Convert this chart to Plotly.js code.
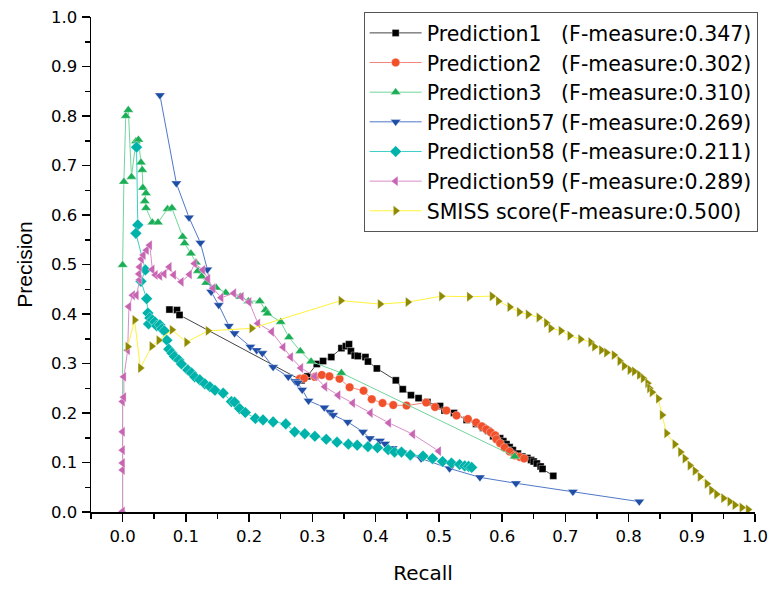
<!DOCTYPE html>
<html><head><meta charset="utf-8">
<script src="https://cdn.plot.ly/plotly-3.0.1.min.js"></script>
<style>html,body{margin:0;padding:0;background:#fff;}#chart{width:771px;height:589px;}</style>
</head><body><div id="chart"></div>
<script>
// ---- data ----
const seriesNames = [
  "Prediction1\u00A0\u00A0\u00A0(F-measure:0.347)",
  "Prediction2\u00A0\u00A0\u00A0(F-measure:0.302)",
  "Prediction3\u00A0\u00A0\u00A0(F-measure:0.310)",
  "Prediction57 (F-measure:0.269)",
  "Prediction58 (F-measure:0.211)",
  "Prediction59 (F-measure:0.289)",
  "SMISS score(F-measure:0.500)"
];

const p1Recall = [0.074,0.086,0.090,0.283,0.285,0.292,0.307,0.317,0.330,0.346,0.353,0.358,0.361,0.367,0.372,0.384,0.388,0.402,0.432,0.443,0.456,0.468,0.482,0.502,0.509,0.524,0.544,0.559,0.570,0.578,0.586,0.597,0.602,0.607,0.612,0.617,0.625,0.632,0.640,0.646,0.650,0.655,0.661,0.664,0.681];
const p1Precision = [0.409,0.408,0.398,0.266,0.270,0.274,0.299,0.305,0.313,0.331,0.335,0.339,0.325,0.316,0.315,0.313,0.304,0.290,0.266,0.248,0.236,0.230,0.222,0.214,0.205,0.200,0.186,0.178,0.170,0.164,0.153,0.149,0.143,0.137,0.131,0.125,0.118,0.112,0.109,0.105,0.102,0.098,0.092,0.087,0.073];

const p2Recall = [0.280,0.287,0.304,0.315,0.327,0.343,0.359,0.381,0.394,0.411,0.428,0.449,0.480,0.494,0.512,0.528,0.546,0.559,0.568,0.575,0.582,0.589,0.591,0.597,0.604,0.612,0.620,0.628,0.635];
const p2Precision = [0.269,0.270,0.273,0.277,0.274,0.269,0.252,0.245,0.228,0.220,0.216,0.215,0.221,0.212,0.205,0.195,0.188,0.181,0.173,0.167,0.161,0.155,0.147,0.139,0.130,0.122,0.114,0.111,0.108];

const p3Recall = [0.000,0.000,0.002,0.005,0.009,0.014,0.021,0.025,0.029,0.031,0.032,0.037,0.035,0.037,0.047,0.056,0.071,0.078,0.095,0.098,0.108,0.116,0.119,0.125,0.132,0.148,0.163,0.186,0.199,0.217,0.226,0.229,0.250,0.263,0.281,0.298,0.346,0.620];
const p3Precision = [0.000,0.499,0.667,0.800,0.812,0.677,0.749,0.752,0.706,0.691,0.655,0.644,0.628,0.614,0.585,0.585,0.612,0.614,0.556,0.543,0.522,0.504,0.487,0.476,0.463,0.453,0.443,0.435,0.426,0.426,0.408,0.401,0.384,0.353,0.325,0.304,0.281,0.112];

const p57Recall = [0.059,0.085,0.105,0.123,0.134,0.140,0.152,0.168,0.177,0.202,0.212,0.221,0.238,0.262,0.273,0.277,0.284,0.294,0.319,0.328,0.333,0.356,0.380,0.391,0.407,0.415,0.427,0.442,0.472,0.517,0.565,0.622,0.712,0.817];
const p57Precision = [0.842,0.664,0.595,0.544,0.490,0.445,0.418,0.376,0.361,0.334,0.327,0.321,0.293,0.273,0.264,0.261,0.247,0.225,0.211,0.202,0.196,0.182,0.162,0.149,0.144,0.138,0.129,0.120,0.108,0.088,0.070,0.058,0.041,0.021];

const p58Recall = [0.022,0.024,0.021,0.036,0.029,0.038,0.040,0.043,0.041,0.047,0.051,0.054,0.059,0.062,0.066,0.070,0.073,0.078,0.082,0.089,0.093,0.103,0.109,0.114,0.122,0.130,0.138,0.146,0.159,0.172,0.177,0.185,0.194,0.210,0.222,0.238,0.258,0.272,0.288,0.304,0.322,0.339,0.357,0.371,0.388,0.403,0.420,0.430,0.441,0.455,0.475,0.490,0.506,0.520,0.533,0.541,0.547,0.552];
const p58Precision = [0.737,0.580,0.563,0.489,0.466,0.431,0.402,0.392,0.380,0.388,0.384,0.376,0.378,0.370,0.366,0.347,0.329,0.321,0.314,0.307,0.299,0.287,0.281,0.273,0.267,0.259,0.253,0.246,0.240,0.223,0.222,0.209,0.201,0.189,0.186,0.182,0.178,0.162,0.158,0.153,0.147,0.141,0.137,0.135,0.132,0.130,0.126,0.121,0.121,0.115,0.113,0.108,0.102,0.099,0.096,0.093,0.092,0.090];

const p59Recall = [0.000,0.000,0.000,0.000,0.000,0.000,0.002,0.002,0.008,0.010,0.016,0.022,0.027,0.026,0.027,0.030,0.033,0.038,0.043,0.047,0.052,0.059,0.066,0.074,0.081,0.093,0.106,0.114,0.127,0.135,0.143,0.156,0.176,0.188,0.200,0.214,0.236,0.254,0.266,0.282,0.304,0.320,0.341,0.364,0.392,0.421,0.459,0.500];
const p59Precision = [0.001,0.085,0.099,0.125,0.162,0.223,0.232,0.273,0.327,0.415,0.438,0.438,0.469,0.481,0.495,0.511,0.519,0.529,0.539,0.490,0.479,0.477,0.481,0.495,0.479,0.465,0.480,0.502,0.489,0.471,0.452,0.433,0.442,0.435,0.424,0.381,0.364,0.333,0.313,0.291,0.274,0.253,0.236,0.220,0.200,0.180,0.157,0.123];

const smissRecall = [0.008,0.019,0.028,0.046,0.057,0.078,0.101,0.135,0.204,0.345,0.407,0.451,0.504,0.548,0.584,0.594,0.612,0.627,0.641,0.658,0.670,0.677,0.693,0.707,0.724,0.740,0.746,0.757,0.765,0.777,0.786,0.793,0.802,0.809,0.817,0.823,0.830,0.833,0.837,0.847,0.853,0.860,0.873,0.882,0.889,0.897,0.905,0.913,0.924,0.931,0.939,0.950,0.960,0.968,0.979,0.989];
const smissPrecision = [0.334,0.388,0.291,0.335,0.347,0.368,0.343,0.366,0.371,0.427,0.420,0.424,0.436,0.435,0.436,0.426,0.414,0.404,0.399,0.393,0.382,0.371,0.366,0.356,0.349,0.343,0.334,0.327,0.322,0.317,0.305,0.295,0.287,0.284,0.277,0.270,0.260,0.250,0.242,0.229,0.196,0.159,0.137,0.121,0.108,0.094,0.083,0.071,0.057,0.044,0.036,0.028,0.021,0.014,0.009,0.005];

const xTickVals = [0,0.1,0.2,0.3,0.4,0.5,0.6,0.7,0.8,0.9,1.0];
const yTickVals = [0,0.1,0.2,0.3,0.4,0.5,0.6,0.7,0.8,0.9,1.0];

// ---- styles ----
function tr(x, y, name, mcol, lcol, sym, size) {
  return {x: x, y: y, name: name, type: 'scatter', mode: 'lines+markers',
    line: {color: lcol, width: 1},
    marker: {color: mcol, symbol: sym, size: size, line: {width: 0.6, color: 'rgba(255,255,255,0.6)'}}};
}
const data = [
  tr(p1Recall, p1Precision, seriesNames[0], '#000000', '#444444', 'square', 7),
  tr(p2Recall, p2Precision, seriesNames[1], '#F0502A', '#F2857A', 'circle', 8.5),
  tr(p3Recall, p3Precision, seriesNames[2], '#1AAE55', '#72D49C', 'triangle-up', 9),
  tr(p57Recall, p57Precision, seriesNames[3], '#1F4EA6', '#4F78C8', 'triangle-down', 9),
  tr(p58Recall, p58Precision, seriesNames[4], '#00B3AA', '#3CCDC5', 'diamond', 9),
  tr(p59Recall, p59Precision, seriesNames[5], '#C865B3', '#D98DCA', 'triangle-left', 9),
  tr(smissRecall, smissPrecision, seriesNames[6], '#8F8A00', '#FFF23A', 'triangle-right', 9)
];

const tickFont = {family: 'DejaVu Sans, sans-serif', size: 16.5, color: '#000'};
const axisCommon = {
  showline: true, linecolor: '#000', linewidth: 1.5, mirror: false,
  ticks: 'outside', ticklen: 8, tickwidth: 1.5, tickcolor: '#000',
  showgrid: false, zeroline: false, tickformat: '.1f', tickfont: tickFont,
  minor: {dtick: 0.05, ticks: 'outside', ticklen: 5, tickwidth: 1.5, tickcolor: '#000', showgrid: false}
};
const layout = {
  width: 771, height: 589,
  margin: {l: 91, r: 16, t: 17, b: 77},
  paper_bgcolor: '#fff', plot_bgcolor: '#fff',
  showlegend: true,
  font: {family: 'DejaVu Sans, sans-serif', color: '#000'},
  xaxis: Object.assign({}, axisCommon, {
    range: [-0.05, 1.0], tickvals: xTickVals, ticklabelstandoff: 1,
    title: {text: 'Recall', font: {family: 'DejaVu Sans, sans-serif', size: 20}, standoff: 20}
  }),
  yaxis: Object.assign({}, axisCommon, {
    range: [0, 1.0], tickvals: yTickVals, ticklabelstandoff: 1,
    title: {text: 'Precision', font: {family: 'Liberation Sans, Arial, sans-serif', size: 21}, standoff: 12}
  }),
  legend: {
    x: 1.004, xanchor: 'right', y: 1.01, yanchor: 'top',
    bgcolor: '#fff', bordercolor: '#555', borderwidth: 1,
    font: {family: 'DejaVu Sans, sans-serif', size: 20.5, color: '#000'},
    itemwidth: 52, tracegroupgap: 0
  }
};
Plotly.newPlot('chart', data, layout, {displayModeBar: false, staticPlot: true});
</script>
</body></html>
